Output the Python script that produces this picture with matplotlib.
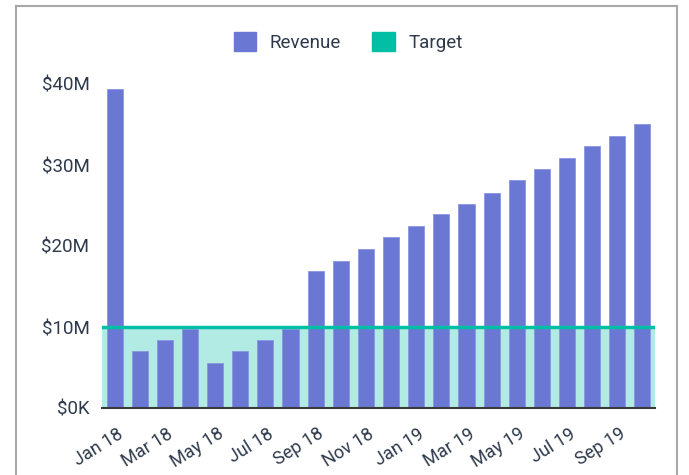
import matplotlib
matplotlib.use("Agg")
import matplotlib.pyplot as plt
import matplotlib.transforms as mtransforms
from matplotlib.lines import Line2D
import numpy as np

plt.rcParams['font.family'] = ['Roboto', 'DejaVu Sans']

# monthly revenue in $M, Jan 18 .. Oct 19
months = ['Jan 18', 'Feb 18', 'Mar 18', 'Apr 18', 'May 18', 'Jun 18', 'Jul 18', 'Aug 18',
          'Sep 18', 'Oct 18', 'Nov 18', 'Dec 18', 'Jan 19', 'Feb 19', 'Mar 19', 'Apr 19',
          'May 19', 'Jun 19', 'Jul 19', 'Aug 19', 'Sep 19', 'Oct 19']
revenue = [39.4, 7.0, 8.4, 9.8, 5.5, 7.0, 8.4, 9.8,
           16.9, 18.2, 19.6, 21.1, 22.5, 23.9, 25.2, 26.6,
           28.1, 29.5, 30.9, 32.4, 33.6, 35.1]
target = 10.0
ytick_vals = [0, 10, 20, 30, 40]
ytick_labels = ['$0K', '$10M', '$20M', '$30M', '$40M']

W, H = 689, 475
fig = plt.figure(figsize=(W / 100, H / 100), dpi=100)
ax = fig.add_axes([102 / W, (H - 408) / H, (655 - 102) / W, (408 - 70) / H])

bar_col = '#6b78d3'
tgt_col = '#00bfa5'
txt_col = '#2e3a4c'
fs = 13.5

x = np.arange(len(months))
ax.set_xlim(-0.5, len(months) - 0.5)
ax.set_ylim(0, (408 - 70) / 8.1)

ax.axhspan(0, target, color='#b2ebe3', zorder=1, lw=0)
ax.bar(x, revenue, width=0.64, color=bar_col, edgecolor='#8b95e0', linewidth=0.6, zorder=2)
ax.axhline(target, color=tgt_col, lw=2.5, zorder=3)

for s in ['top', 'right', 'left']:
    ax.spines[s].set_visible(False)
ax.spines['bottom'].set_color('#3a3a3a')
ax.spines['bottom'].set_linewidth(1.5)
ax.spines['bottom'].set_zorder(4)

ax.set_yticks(ytick_vals)
ax.set_yticklabels(ytick_labels)
ax.set_xticks(x[::2])
ax.set_xticklabels(months[::2], rotation=32, ha='right', va='top', rotation_mode='anchor')
ax.tick_params(axis='both', length=0, labelsize=fs, labelcolor=txt_col)
ax.tick_params(axis='y', pad=9)
ax.tick_params(axis='x', labelsize=13, pad=0)
off = mtransforms.ScaledTranslation(2 / 100, -17 / 100, fig.dpi_scale_trans)
for lab in ax.get_xticklabels():
    lab.set_transform(lab.get_transform() + off)

handles = [plt.Rectangle((0, 0), 1, 1, color=bar_col), plt.Rectangle((0, 0), 1, 1, color=tgt_col)]
fig.legend(handles, ['Revenue', 'Target'], loc='center', bbox_to_anchor=(348 / W, 1 - 42 / H),
           ncol=2, frameon=False, fontsize=fs, labelcolor=txt_col,
           handlelength=1.2, handleheight=1.2, handletextpad=0.7, columnspacing=1.7)

# outer frame (bottom edge is cut off)
fc = '#a8a8a8'
fig.add_artist(Line2D([16 / W, 16 / W], [0, 1 - 6 / H], color=fc, lw=1.5))
fig.add_artist(Line2D([16 / W, 677 / W], [1 - 6 / H, 1 - 6 / H], color=fc, lw=1.5))
fig.add_artist(Line2D([677 / W, 677 / W], [0, 1 - 6 / H], color=fc, lw=1.5))

fig.savefig('out.png', dpi=100)
